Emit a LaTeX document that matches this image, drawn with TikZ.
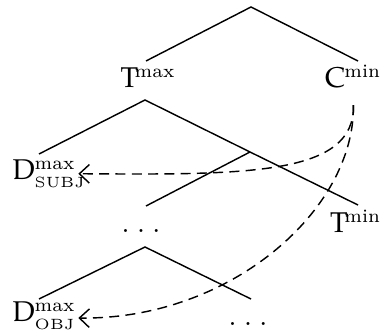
\documentclass[tikz,border=0pt]{standalone}
\usepackage{amsmath}
\usepackage{mathpazo}
\usetikzlibrary{arrows.meta}
\newcommand{\fakesc}[1]{\text{\fontsize{5.2}{6}\selectfont #1}}
\newcommand{\supt}[1]{\text{\fontsize{6.6}{7}\selectfont #1}}
\newcommand{\spdots}{.\kern2.6pt.\kern2.6pt.}
\newcommand{\dbox}[1]{\makebox[19.6pt][l]{#1}}
\begin{document}
\begin{tikzpicture}[x=0.35pt,y=-0.35pt,
  edge/.style={line width=0.5pt},
  mv/.style={line width=0.5pt, dash pattern=on 3.5pt off 2.2pt,
    -{Straight Barb[length=3.5pt,width=6.5pt]}},
  lbl/.style={anchor=base},
  lblw/.style={anchor=base west, inner xsep=0pt},
  lble/.style={anchor=base east, inner xsep=0pt},
  dlbl/.style={anchor=base west, inner xsep=3.2pt}]
\useasboundingbox (0,0) rectangle (383,336);
% tree points
\coordinate (root) at (251,7);
\coordinate (tmaxU) at (146,61);
\coordinate (cminU) at (358,61);
\coordinate (tA) at (145,100);
\coordinate (dsubjU) at (39,154);
\coordinate (mid) at (250,152);
\coordinate (tminU) at (358,205);
\coordinate (dotsU) at (146,206);
\coordinate (tB) at (145,247);
\coordinate (dobjU) at (39,299);
\coordinate (dotsBU) at (251,299);
% labels
\node[lblw] (tmax) at (120,87.5) {$\mathrm{T}\kern-1.2pt^{\supt{max}}$};
\node[lble] (cmin) at (382,88) {$\mathrm{C}\kern-0.4pt^{\supt{min}}$};
\node[dlbl] (dsubj) at (2.9,180) {\dbox{$\mathrm{D}^{\supt{max}}_{\fakesc{SUBJ}}$}};
\node[lble] (tmin) at (382,232.5) {$\mathrm{T}\kern-1.2pt^{\supt{min}}$};
\node[lbl] (dotsA) at (141,233) {\spdots};
\node[dlbl] (dobj) at (2.9,322) {\dbox{$\mathrm{D}^{\supt{max}}_{\fakesc{OBJ}}$}};
\node[lbl] (dotsB) at (248,326) {\spdots};
% edges
\draw[edge] (tmaxU) -- (root) -- (cminU);
\draw[edge] (dsubjU) -- (tA) -- (mid) -- (tminU);
\draw[edge] (mid) -- (dotsU);
\draw[edge] (dobjU) -- (tB) -- (dotsBU);
% movement arrows
\draw[mv, shorten <=2.3pt] (cmin.south) .. controls (355,175) and (250,175) .. (dsubj.east);
\draw[mv, shorten <=2.3pt] (cmin.south) .. controls (355,210) and (230,320) .. ([yshift=-0.8pt]dobj.east);
\end{tikzpicture}
\end{document}
